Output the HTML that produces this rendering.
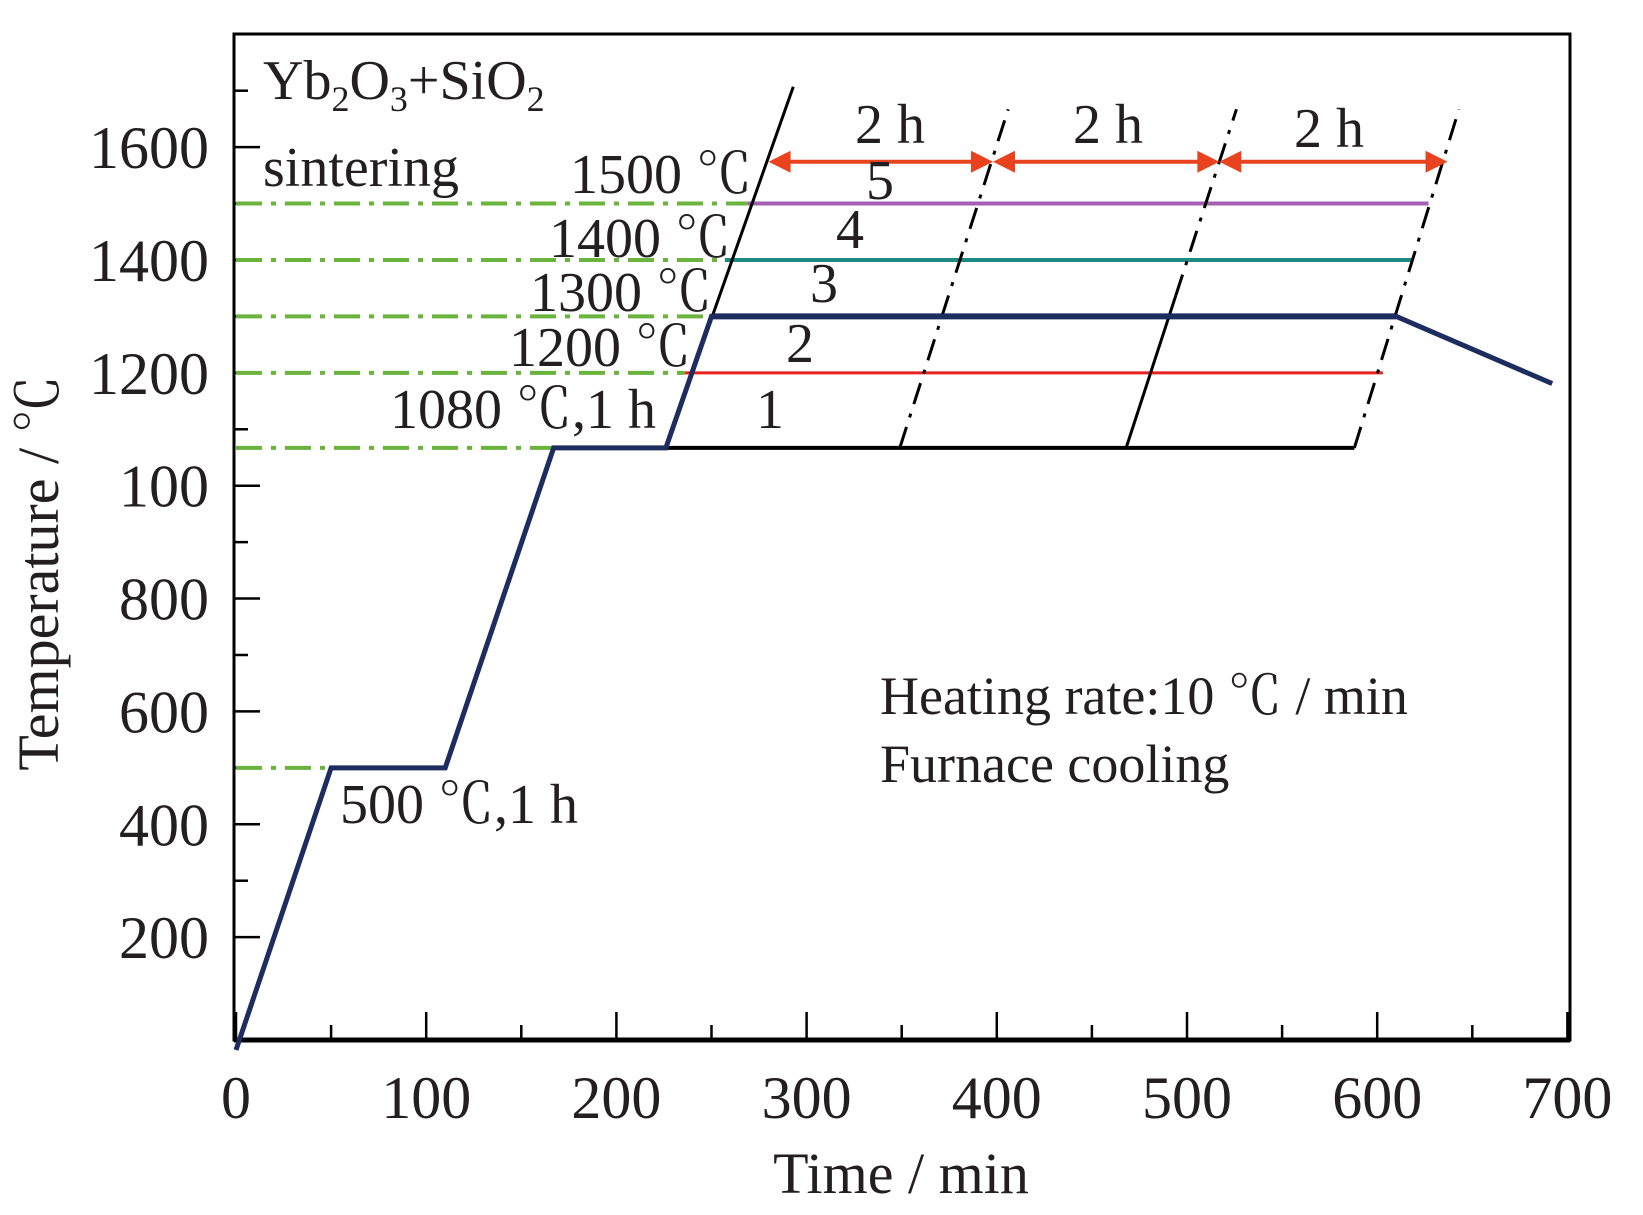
<!DOCTYPE html>
<html><head><meta charset="utf-8"><style>
html,body{margin:0;padding:0;background:#fff;}
svg{display:block;}
text{font-family:"Liberation Serif","Noto Serif CJK SC",serif;fill:#231f20;}
</style></head><body>
<svg id="chart" width="1643" height="1215" viewBox="0 0 1643 1215" xmlns="http://www.w3.org/2000/svg">
<rect x="234" y="34" width="1336" height="1006" fill="none" stroke="#000" stroke-width="3"/>
<line x1="234" y1="1040" x2="1570" y2="1040" stroke="#000" stroke-width="5"/>
<g id="ticks"></g>
<g id="marks"></g>
<g id="labels" font-size="60">
<text x="58" y="573" text-anchor="middle" transform="rotate(-90 58 573)" font-size="58">Temperature / ℃</text>
<text x="901" y="1193" text-anchor="middle" font-size="58">Time / min</text>
<text x="263" y="99" font-size="56">Yb<tspan font-size="36" dy="12">2</tspan><tspan dy="-12">O</tspan><tspan font-size="36" dy="12">3</tspan><tspan dy="-12">+SiO</tspan><tspan font-size="36" dy="12">2</tspan></text>
<text x="263" y="186" font-size="56">sintering</text>
<text x="570" y="193" font-size="56">1500 ℃</text>
<text x="549" y="257" font-size="56">1400 ℃</text>
<text x="530" y="311" font-size="56">1300 ℃</text>
<text x="509" y="366" font-size="56">1200 ℃</text>
<text x="390" y="428" font-size="56">1080 ℃,1 h</text>
<text x="340" y="823" font-size="56">500 ℃,1 h</text>
<text x="880" y="199" font-size="56" text-anchor="middle">5</text>
<text x="850" y="248" font-size="56" text-anchor="middle">4</text>
<text x="824" y="302" font-size="56" text-anchor="middle">3</text>
<text x="800" y="362" font-size="56" text-anchor="middle">2</text>
<text x="770" y="428" font-size="56" text-anchor="middle">1</text>
<text x="890" y="143" font-size="56" text-anchor="middle">2 h</text>
<text x="1108" y="143" font-size="56" text-anchor="middle">2 h</text>
<text x="1329" y="147" font-size="56" text-anchor="middle">2 h</text>
<text x="880" y="714" font-size="54">Heating rate:10 ℃ / min</text>
<text x="880" y="782" font-size="54">Furnace cooling</text>
</g>
</svg>
<script>
const xTicks=[0,100,200,300,400,500,600,700];
const yTickLabels=["200","400","600","800","100","1200","1400","1600"];
const yTickValues=[200,400,600,800,1000,1200,1400,1600];
const profileT=[0,50,110,167,226,250,610,692];
const profileTemp=[0,500,500,1067,1067,1300,1300,1181];
const holdLevels=[1067,1200,1300,1400,1500];
const holdStart=[226,236,250,257,269];
const holdEnd=[588,603,610,619,627];
const guideLevels=[500,1067,1200,1300,1400,1500];
const guideEnd=[50,167,236,250,257,269];
const rampT=[226,293];
const rampTemp=[1067,1707];
const stepStartT=[349,468,588];
const stepEndT=[406,526,643];
const stepTemp=[1067,1667];
const arrowT=[280,398,517,637];
const arrowTemp=1574;
const X=t=>236+t*1.902, Y=v=>1050-v*0.5643;
const NS="http://www.w3.org/2000/svg";
const ticks=document.getElementById('ticks'), marks=document.getElementById('marks'), lab=document.getElementById('labels');
function mk(tag,attrs,parent){const e=document.createElementNS(NS,tag);for(const k in attrs)e.setAttribute(k,attrs[k]);parent.appendChild(e);return e;}
xTicks.forEach((t,i)=>{
 const l=mk('line',{x1:X(t),x2:X(t),y1:1040,y2:1012,stroke:'#000','stroke-width':2.5},ticks);
 
 
 if(i<xTicks.length-1){const m=mk('line',{x1:X(t+50),x2:X(t+50),y1:1040,y2:1025,stroke:'#000','stroke-width':2.5},ticks);
 
 }
 const tx=mk('text',{x:X(t),y:1118,'text-anchor':'middle','font-size':60},lab);tx.textContent=t;
 
 
});
yTickValues.forEach((v,i)=>{
 const l=mk('line',{x1:234,x2:260,y1:Y(v),y2:Y(v),stroke:'#000','stroke-width':2.5},ticks);
 
 
 const m=mk('line',{x1:234,x2:248,y1:Y(v+100),y2:Y(v+100),stroke:'#000','stroke-width':2.5},ticks);
 
 
 const tx=mk('text',{x:209,y:Y(v)+21,'text-anchor':'end','font-size':60},lab);tx.textContent=yTickLabels[i];
 
 
});
guideLevels.forEach((v,i)=>{
 const l=mk('line',{x1:236,x2:X(guideEnd[i]),y1:Y(v),y2:Y(v),stroke:'#6ab43e','stroke-width':4,'stroke-dasharray':'26 9 5 9'},marks);
 
 
});
const holdColors=['#000','#e8231f','#1e2d5f','#1e8a84','#a35fb2'];
const holdWidths=[4,3,6,4,4];
holdLevels.forEach((v,i)=>{
 const l=mk('line',{x1:X(holdStart[i]),x2:X(holdEnd[i]),y1:Y(v),y2:Y(v),stroke:holdColors[i],'stroke-width':holdWidths[i]},marks);
 
 
});
const ramp=mk('line',{x1:X(rampT[0]),y1:Y(rampTemp[0]),x2:X(rampT[1]),y2:Y(rampTemp[1]),stroke:'#000','stroke-width':3},marks);


stepStartT.forEach((t,i)=>{
 const f=0.45;
 const mx=t+(stepEndT[i]-t)*f, my=stepTemp[0]+(stepTemp[1]-stepTemp[0])*f;
 if(i==1){
  const s=mk('line',{x1:X(t),y1:Y(stepTemp[0]),x2:X(mx),y2:Y(my),stroke:'#000','stroke-width':3},marks);
  
  
  const d=mk('line',{x1:X(mx),y1:Y(my),x2:X(stepEndT[i]),y2:Y(stepTemp[1]),stroke:'#000','stroke-width':3,'stroke-dasharray':'22 10 4 10'},marks);
  
  
 } else {
  const l=mk('line',{x1:X(t),y1:Y(stepTemp[0]),x2:X(stepEndT[i]),y2:Y(stepTemp[1]),stroke:'#000','stroke-width':3,'stroke-dasharray':'22 10 4 10'},marks);
  
  
 }
});
const pts=profileT.map((t,i)=>X(t)+','+Y(profileTemp[i])).join(' ');
const pl=mk('polyline',{points:pts,fill:'none',stroke:'#1e2d5f','stroke-width':5,'stroke-linejoin':'miter'},marks);


for(let i=0;i<arrowT.length-1;i++){
 const a=X(arrowT[i]),b=X(arrowT[i+1]),y=Y(arrowTemp);
 const l=mk('line',{x1:a+18,x2:b-18,y1:y,y2:y,stroke:'#e8421f','stroke-width':4},marks);
 
 
 const h1=mk('polygon',{points:`${a},${y} ${a+22},${y-11} ${a+22},${y+11}`,fill:'#e8421f'},marks);
 
 
 const h2=mk('polygon',{points:`${b},${y} ${b-22},${y-11} ${b-22},${y+11}`,fill:'#e8421f'},marks);
 
 
}
</script>
</body></html>
